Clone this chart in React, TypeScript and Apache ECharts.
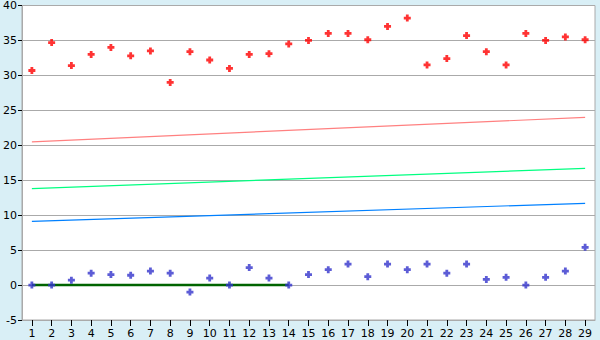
import React, { useEffect, useRef } from "react";
import * as echarts from "echarts";

const categories = ["1","2","3","4","5","6","7","8","9","10","11","12","13","14","15","16","17","18","19","20","21","22","23","24","25","26","27","28","29"];
const redValues = [30.7, 34.7, 31.4, 33.0, 34.0, 32.8, 33.5, 29.0, 33.4, 32.2, 31.0, 33.0, 33.1, 34.5, 35.0, 36.0, 36.0, 35.1, 37.0, 38.2, 31.5, 32.4, 35.7, 33.4, 31.5, 36.0, 35.0, 35.5, 35.1];
const blueValues = [0, 0, 0.7, 1.7, 1.5, 1.4, 2.0, 1.7, -1.0, 1.0, 0, 2.5, 1.0, 0, 1.5, 2.2, 3.0, 1.2, 3.0, 2.2, 3.0, 1.7, 3.0, 0.8, 1.1, 0, 1.1, 2.0, 5.4];
// trend lines: [start value at category 1, end value at category 29]
const pinkTrend = [20.5, 24.0];
const greenTrend = [13.8, 16.7];
const blueTrend = [9.1, 11.7];
// baseline segment: from category 1 to category 14 at value 0
const baseline = { from: 0, to: 13, value: 0 };

const marker = "path://M1.5,0 H3.5 V1.5 H5 V3.5 H3.5 V5 H1.5 V3.5 H0 V1.5 H1.5 Z";
const font = "DejaVu Sans";

export default function App() {
  const ref = useRef<HTMLDivElement>(null);
  useEffect(() => {
    if (!ref.current) return;
    const chart = echarts.init(ref.current, null, { renderer: "svg" });
    const last = categories.length - 1;
    const trend = (v: number[], color: string) => ({
      type: "line",
      data: [[0, v[0]], [last, v[1]]],
      symbol: "none",
      lineStyle: { color, width: 1.2 },
      z: 2,
      silent: true,
    });
    chart.setOption({
      animation: false,
      backgroundColor: "#d9eff6",
      grid: {
        left: 20,
        right: 5,
        top: 5,
        bottom: 20,
        show: true,
        backgroundColor: "#ffffff",
        borderColor: "#aaaaaa",
        borderWidth: 1,
      },
      xAxis: {
        type: "category",
        data: categories,
        boundaryGap: true,
        axisLine: { show: true, onZero: false, lineStyle: { color: "#aaaaaa" } },
        axisTick: { show: true, alignWithLabel: true, length: 6, lineStyle: { color: "#000" } },
        axisLabel: { color: "#000", fontFamily: font, fontSize: 11, margin: 8, interval: 0 },
        splitLine: { show: false },
      },
      yAxis: {
        type: "value",
        min: -5,
        max: 40,
        interval: 5,
        axisLine: { show: true, lineStyle: { color: "#aaaaaa" } },
        axisTick: { show: true, length: 4, lineStyle: { color: "#000" } },
        axisLabel: { color: "#000", fontFamily: font, fontSize: 11, margin: 5 },
        splitLine: { show: true, lineStyle: { color: "#aaaaaa", width: 1 } },
      },
      series: [
        trend(pinkTrend, "#ff8080"),
        trend(greenTrend, "#00ff80"),
        trend(blueTrend, "#0080ff"),
        {
          type: "line",
          data: [[baseline.from, baseline.value], [baseline.to, baseline.value]],
          symbol: "none",
          lineStyle: { color: "#006400", width: 2.5 },
          z: 3,
          silent: true,
        },
        {
          type: "scatter",
          data: redValues,
          symbol: marker,
          symbolSize: 7,
          itemStyle: { color: "#ff0000" },
          z: 5,
        },
        {
          type: "scatter",
          data: blueValues,
          symbol: marker,
          symbolSize: 7,
          itemStyle: { color: "#3333cc" },
          z: 5,
        },
      ],
    });
    return () => chart.dispose();
  }, []);
  return (
    <div
      ref={ref}
      style={{ position: "absolute", left: 0, top: 0, width: 600, height: 340 }}
    />
  );
}
